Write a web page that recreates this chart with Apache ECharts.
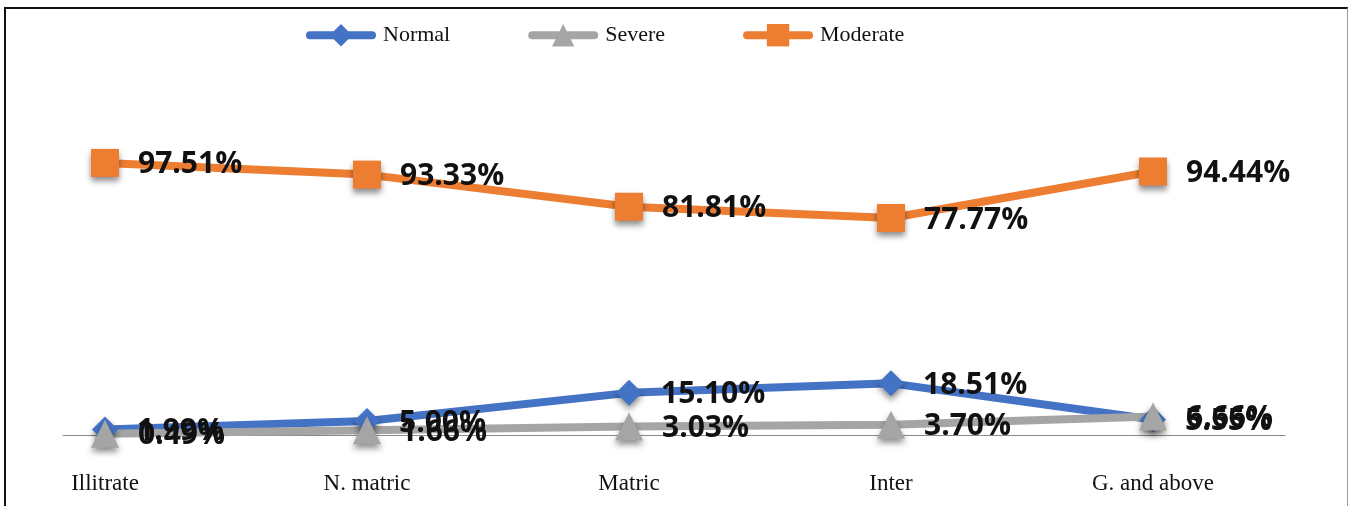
<!DOCTYPE html>
<html>
<head>
<meta charset="utf-8">
<script src="https://cdn.jsdelivr.net/npm/echarts@6/dist/echarts.min.js"></script>
<style>
  html, body { margin: 0; padding: 0; background: #fff; }
  #chart { position: absolute; left: 0; top: 0; width: 1348px; height: 506px; }
  #frame {
    position: absolute; left: 4px; top: 7px; width: 1341px; height: 520px;
    border-top: 2px solid #111; border-left: 2px solid #111; border-right: 1px solid #999;
    pointer-events: none;
  }
</style>
</head>
<body>
<div id="chart"></div>
<div id="frame"></div>
<script>
// Education level categories
const categories = ['Illitrate', 'N. matric', 'Matric', 'Inter', 'G. and above'];

// Percentages per group
const normalValues   = [1.99, 5.00, 15.10, 18.51, 5.55];
const severeValues   = [0.49, 1.66, 3.03, 3.70, 6.66];
const moderateValues = [97.51, 93.33, 81.81, 77.77, 94.44];

const serif = '"Liberation Serif", "DejaVu Serif", serif';
const labelFont = '"Open Sans", "DejaVu Sans", sans-serif';

function makeSeries(name, values, color, symbol, size) {
  return {
    name: name,
    type: 'line',
    data: values,
    symbol: symbol,
    symbolSize: size,
    lineStyle: { color: color, width: 8, cap: 'round' },
    itemStyle: {
      color: color,
      shadowColor: 'rgba(0,0,0,0.45)',
      shadowBlur: 6,
      shadowOffsetY: 4
    },
    label: {
      show: true,
      position: 'right',
      distance: 19,
      offset: [0, 2],
      color: '#111',
      fontFamily: labelFont,
      fontWeight: 'bold',
      fontSize: 30,
      formatter: p => p.value.toFixed(2) + '%'
    },
    emphasis: { disabled: true },
    animation: false
  };
}

const chart = echarts.init(document.getElementById('chart'), null, { renderer: 'canvas' });
chart.setOption({
  backgroundColor: '#fff',
  animation: false,
  legend: {
    top: 19,
    left: 301,
    itemWidth: 62,
    itemHeight: 28,
    itemGap: 78,
    lineStyle: { width: 8, cap: 'round' },
    itemStyle: { shadowBlur: 0 },
    textStyle: { fontFamily: serif, fontSize: 22, color: '#111', padding: [0, 0, 0, 6] },
    data: ['Normal', 'Severe', 'Moderate']
  },
  grid: [
    { left: 105, right: 195, top: 156, bottom: 71 },
    { left: 63, right: 63, top: 156, bottom: 71 }
  ],
  xAxis: [
    {
      type: 'category',
      gridIndex: 0,
      data: categories,
      boundaryGap: false,
      axisLine: { show: false },
      axisTick: { show: false },
      axisLabel: { fontFamily: serif, fontSize: 23, color: '#111', margin: 37 }
    },
    {
      type: 'category',
      gridIndex: 1,
      data: categories,
      axisLine: { show: true, onZero: false, lineStyle: { color: '#8a8a8a', width: 1 } },
      axisTick: { show: false },
      axisLabel: { show: false }
    }
  ],
  yAxis: [
    { type: 'value', gridIndex: 0, min: 0, max: 100, show: false },
    { type: 'value', gridIndex: 1, min: 0, max: 100, show: false }
  ],
  series: [
    makeSeries('Normal', normalValues, '#4472C4', 'diamond', 26),
    makeSeries('Severe', severeValues, '#A5A5A5', 'triangle', 28),
    makeSeries('Moderate', moderateValues, '#ED7D31', 'rect', 28)
  ]
});
</script>
</body>
</html>
